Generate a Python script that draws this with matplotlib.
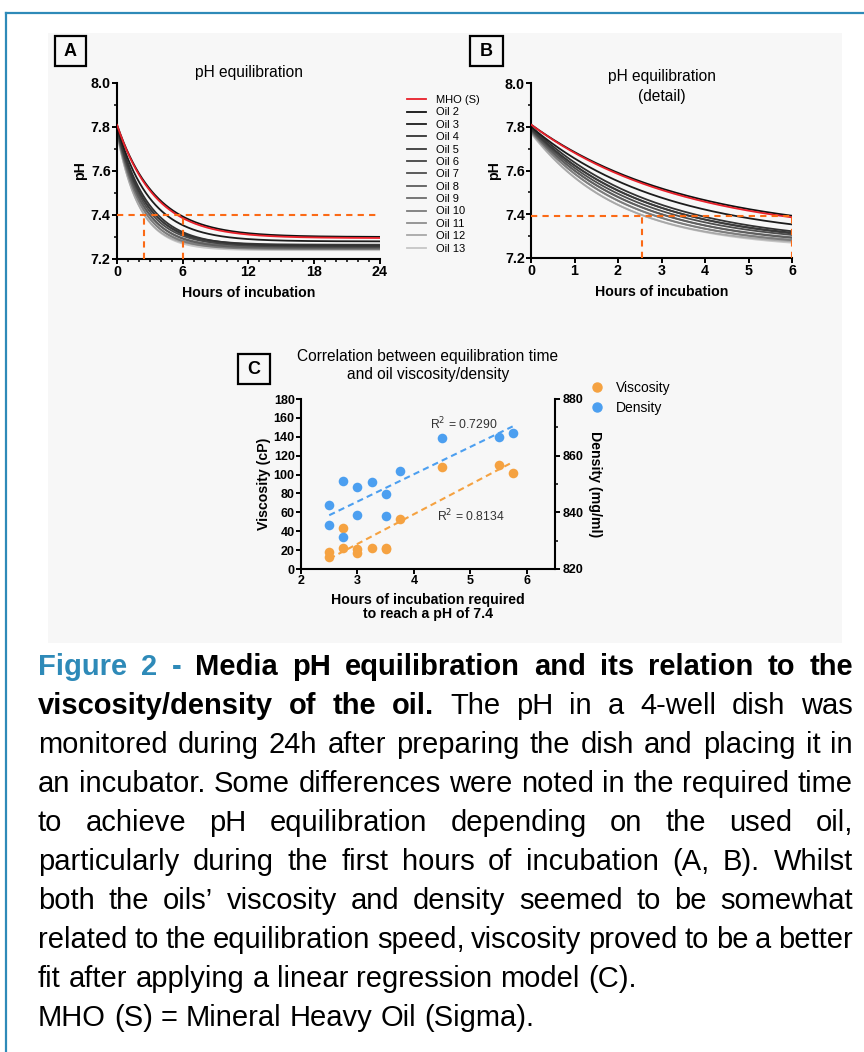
import numpy as np
import matplotlib
matplotlib.use('Agg')
import matplotlib.pyplot as plt
from matplotlib.lines import Line2D
from matplotlib.patches import Rectangle
from matplotlib.ticker import MultipleLocator

plt.rcParams['font.family'] = ['Liberation Sans', 'DejaVu Sans']

W, H = 864, 1052

# one-phase decay fits per oil: start pH, plateau pH, hours to reach pH 7.4
oils = ['MHO (S)', 'Oil 2', 'Oil 3', 'Oil 4', 'Oil 5', 'Oil 6', 'Oil 7',
        'Oil 8', 'Oil 9', 'Oil 10', 'Oil 11', 'Oil 12', 'Oil 13']
ph_start = [7.81, 7.81, 7.80, 7.80, 7.795, 7.79, 7.79, 7.785, 7.785, 7.78, 7.78, 7.775, 7.77]
ph_plateau = [7.295, 7.30, 7.28, 7.26, 7.265, 7.255, 7.26, 7.25, 7.255, 7.245, 7.25, 7.25, 7.24]
hours_to_74 = [5.5, 5.75, 4.5, 3.75, 3.5, 3.5, 3.25, 3.0, 3.0, 2.75, 2.75, 2.5, 2.5]
oil_colors = ['#e8202a', '#111111', '#1c1c1c', '#333333', '#3a3a3a', '#444444', '#4e4e4e',
              '#5e5e5e', '#6c6c6c', '#7c7c7c', '#8e8e8e', '#a8a8a8', '#c6c6c6']

# panel C: time to reach pH 7.4 vs viscosity / density
hours_req = [2.5, 2.5, 2.75, 2.75, 3.0, 3.0, 3.25, 3.5, 3.5, 3.75, 4.5, 5.5, 5.75]
viscosity = [18, 12.3, 43.4, 22.2, 21.5, 17, 22, 21.5, 22.5, 53, 108, 110, 102]
density = [842.7, 835.5, 851.0, 831.2, 848.8, 839.0, 850.7, 846.3, 838.7, 854.5, 866.3, 866.7, 867.9]
r2_density = '0.7290'
r2_viscosity = '0.8134'

ORANGE_REF = '#fb6a16'
C_VISC = '#f5a241'
C_DENS = '#4c9ff0'
BLUE = '#2e8ab8'

TICK_FS = 10.3
LABEL_FS = 10.2
TITLE_FS = 11.2


def fx(x):
    return x / W


def fy(y):
    return 1 - y / H


def box(x0, y0, x1, y1):
    return [fx(x0), fy(y1), fx(x1 - x0), (y1 - y0) / H]


fig = plt.figure(figsize=(W / 100, H / 100), dpi=100)

# frame lines and light panel background
fig.add_artist(Line2D([fx(6), 1], [fy(13), fy(13)], color=BLUE, lw=1.6))
fig.add_artist(Line2D([fx(6), fx(6)], [fy(13), 0], color=BLUE, lw=1.6))
fig.add_artist(Rectangle((fx(48), fy(643)), fx(842 - 48), (643 - 33) / H,
                         color='#f7f7f7', lw=0, zorder=-5))


def style_axes(ax):
    for s in ['top', 'right']:
        ax.spines[s].set_visible(False)
    for s in ['left', 'bottom']:
        ax.spines[s].set_linewidth(1.5)
    ax.patch.set_alpha(0)
    ax.tick_params(which='major', direction='out', length=3.5, width=1.4,
                   labelsize=TICK_FS, pad=1.0)
    ax.tick_params(which='minor', direction='out', length=2, width=1.1)
    for lab in ax.get_xticklabels() + ax.get_yticklabels():
        lab.set_fontweight('bold')


def decay(t, y0, p, t74):
    k = np.log((y0 - p) / (7.4 - p)) / t74
    return p + (y0 - p) * np.exp(-k * t)


def panel_label(x0, y0, x1, y1, letter):
    fig.add_artist(Rectangle((fx(x0), fy(y1)), fx(x1 - x0), (y1 - y0) / H,
                             fill=False, ec='black', lw=1.6))
    fig.text(fx((x0 + x1) / 2), fy((y0 + y1) / 2 + 1), letter, ha='center', va='center',
             fontsize=13, fontweight='bold')


def ref_lines(ax, y, xs, xmax):
    kw = dict(color=ORANGE_REF, lw=1.5, ls=(0, (3, 2.5)), zorder=4)
    ax.plot([0, xmax], [y, y], **kw)
    for x in xs:
        ax.plot([x, x], [7.2, y], **kw)


# ---- A: full 24 h
ax_a = fig.add_axes(box(117, 83, 380, 259))
t = np.linspace(0, 24, 500)
for i in range(len(oils) - 1, -1, -1):
    ax_a.plot(t, decay(t, ph_start[i], ph_plateau[i], hours_to_74[i]),
              color=oil_colors[i], lw=1.3, zorder=3 if i == 0 else 2)
ref_lines(ax_a, 7.4, [2.5, 6], 24)
ax_a.set_xlim(0, 24)
ax_a.set_ylim(7.2, 8.0)
ax_a.set_xticks([0, 6, 12, 18, 24])
ax_a.xaxis.set_minor_locator(MultipleLocator(1))
ax_a.set_yticks([7.2, 7.4, 7.6, 7.8, 8.0])
ax_a.yaxis.set_minor_locator(MultipleLocator(0.1))
ax_a.set_yticklabels(['7.2', '7.4', '7.6', '7.8', '8.0'])
style_axes(ax_a)
ax_a.set_xlabel('Hours of incubation', fontsize=LABEL_FS, fontweight='bold', labelpad=5)
ax_a.set_ylabel('pH', fontsize=LABEL_FS, fontweight='bold', labelpad=3)
fig.text(fx(249), fy(73), 'pH equilibration', fontsize=TITLE_FS, ha='center', va='center')

handles = [Line2D([], [], color=c, lw=1.3) for c in oil_colors]
ax_a.legend(handles, oils, loc='upper left', bbox_to_anchor=(fx(407), fy(95)),
            bbox_transform=fig.transFigure, frameon=False, fontsize=8,
            handlelength=1.75, handletextpad=0.85, labelspacing=0.215,
            borderaxespad=0, borderpad=0)

# ---- B: first 6 h detail
ax_b = fig.add_axes(box(531, 83, 792, 258))
tb = np.linspace(0, 6, 300)
for i in range(len(oils) - 1, -1, -1):
    ax_b.plot(tb, decay(tb, ph_start[i], ph_plateau[i], hours_to_74[i]),
              color=oil_colors[i], lw=1.3, zorder=3 if i == 0 else 2)
ref_lines(ax_b, 7.39, [2.55, 6], 6)
ax_b.set_xlim(0, 6)
ax_b.set_ylim(7.2, 8.0)
ax_b.set_xticks(range(7))
ax_b.set_yticks([7.2, 7.4, 7.6, 7.8, 8.0])
ax_b.yaxis.set_minor_locator(MultipleLocator(0.1))
ax_b.set_yticklabels(['7.2', '7.4', '7.6', '7.8', '8.0'])
style_axes(ax_b)
ax_b.set_xlabel('Hours of incubation', fontsize=LABEL_FS, fontweight='bold', labelpad=5)
ax_b.set_ylabel('pH', fontsize=LABEL_FS, fontweight='bold', labelpad=3)
fig.text(fx(662), fy(77), 'pH equilibration', fontsize=TITLE_FS, ha='center', va='center')
fig.text(fx(662), fy(96), '(detail)', fontsize=TITLE_FS, ha='center', va='center')

# ---- C: correlation with viscosity / density
ax_c = fig.add_axes(box(301, 399, 555, 569))
ax_d = ax_c.twinx()
hx = np.array(hours_req)
v = np.array(viscosity)
d = np.array(density)
ax_c.scatter(hx, v, s=48, color=C_VISC, lw=0, zorder=3)
ax_d.scatter(hx, d, s=48, color=C_DENS, lw=0, zorder=3)
xx = np.array([hx.min(), hx.max()])
mv, bv = np.polyfit(hx, v, 1)
md, bd = np.polyfit(hx, d, 1)
ax_c.plot(xx, mv * xx + bv, color=C_VISC, lw=1.5, ls=(0, (3, 2)), zorder=2)
ax_d.plot(xx, md * xx + bd, color=C_DENS, lw=1.5, ls=(0, (3, 2)), zorder=2)
ax_c.set_xlim(2, 6.5)
ax_c.set_ylim(0, 180)
ax_d.set_ylim(820, 880)
ax_c.set_xticks([2, 3, 4, 5, 6])
ax_c.set_yticks(range(0, 181, 20))
ax_d.set_yticks([820, 840, 860, 880])
ax_d.yaxis.set_minor_locator(MultipleLocator(10))
style_axes(ax_c)
ax_c.tick_params(labelsize=9)
for s in ['top', 'left', 'bottom']:
    ax_d.spines[s].set_visible(False)
ax_d.spines['right'].set_linewidth(1.5)
ax_d.tick_params(which='major', direction='out', length=3.5, width=1.4, labelsize=9, pad=2)
ax_d.tick_params(which='minor', direction='out', length=2, width=1.1)
for lab in ax_d.get_yticklabels():
    lab.set_fontweight('bold')
ax_c.set_xlabel('Hours of incubation required\nto reach a pH of 7.4', fontsize=LABEL_FS,
                fontweight='bold', labelpad=4, linespacing=1.0)
ax_c.set_ylabel('Viscosity (cP)', fontsize=LABEL_FS, fontweight='bold', labelpad=2)
ax_d.set_ylabel('Density (mg/ml)', fontsize=LABEL_FS, fontweight='bold', rotation=270,
                labelpad=13)
fig.text(fx(428), fy(356), 'Correlation between equilibration time', fontsize=TITLE_FS,
         ha='center', va='center')
fig.text(fx(428), fy(374), 'and oil viscosity/density', fontsize=TITLE_FS,
         ha='center', va='center')
fig.text(fx(430), fy(424), 'R$^2$ = ' + r2_density, fontsize=8.8, color='#333333', va='center')
fig.text(fx(437), fy(516), 'R$^2$ = ' + r2_viscosity, fontsize=8.8, color='#333333', va='center')

leg_h = [Line2D([], [], marker='o', ls='', color=C_VISC, markersize=6.5),
         Line2D([], [], marker='o', ls='', color=C_DENS, markersize=6.5)]
ax_c.legend(leg_h, ['Viscosity', 'Density'], loc='upper left', bbox_to_anchor=(fx(591), fy(381)),
            bbox_transform=fig.transFigure, frameon=False, fontsize=10,
            handlelength=0.9, handletextpad=0.9, labelspacing=0.45,
            borderaxespad=0, borderpad=0)

panel_label(55, 36, 86, 66, 'A')
panel_label(470, 36, 503, 66, 'B')
panel_label(238, 354, 270, 384, 'C')

# ---- caption, justified word by word
CAP_SIZE = 21
X0, X1 = 38, 853
line_y = [667, 706, 745, 784, 823, 862, 901, 940, 979, 1018]
plain = dict(color='black', fontweight='normal')
bold = dict(color='black', fontweight='bold')
blueb = dict(color=BLUE, fontweight='bold')
caption = [
    ([('Figure 2 -', blueb), ('Media pH equilibration and its relation to the', bold)], True),
    ([('viscosity/density of the oil.', bold), ('The pH in a 4-well dish was', plain)], True),
    ([('monitored during 24h after preparing the dish and placing it in', plain)], True),
    ([('an incubator. Some differences were noted in the required time', plain)], True),
    ([('to achieve pH equilibration depending on the used oil,', plain)], True),
    ([('particularly during the first hours of incubation (A, B). Whilst', plain)], True),
    ([('both the oils\u2019 viscosity and density seemed to be somewhat', plain)], True),
    ([('related to the equilibration speed, viscosity proved to be a better', plain)], True),
    ([('fit after applying a linear regression model (C).', plain)], False),
    ([('MHO (S) = Mineral Heavy Oil (Sigma).', plain)], False),
]

renderer = fig.canvas.get_renderer()
probe_pair = fig.text(0, 0, 'a a', fontsize=CAP_SIZE)
probe_one = fig.text(0, 0, 'a', fontsize=CAP_SIZE)
space_w = (probe_pair.get_window_extent(renderer).width
           - 2 * probe_one.get_window_extent(renderer).width)
probe_pair.remove()
probe_one.remove()
for (chunks, justify), y in zip(caption, line_y):
    words = []
    for txt, st in chunks:
        for w in txt.split(' '):
            words.append(fig.text(0, fy(y), w, fontsize=CAP_SIZE, va='center', **st))
    widths = [w.get_window_extent(renderer).width for w in words]
    if justify and len(words) > 1:
        gap = (X1 - X0 - sum(widths)) / (len(words) - 1)
    else:
        gap = space_w
    x = X0
    for w, wd in zip(words, widths):
        w.set_x(fx(x))
        x += wd + gap

fig.savefig('out.png', dpi=100)
